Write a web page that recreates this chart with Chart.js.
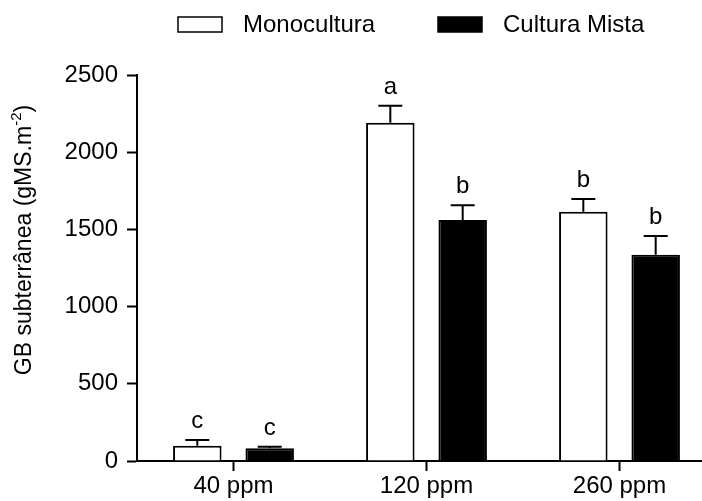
<!DOCTYPE html>
<html>
<head>
<meta charset="utf-8">
<script src="https://cdn.jsdelivr.net/npm/chart.js@4/dist/chart.umd.min.js"></script>
<style>
  html, body { margin: 0; padding: 0; background: #fff; overflow: hidden; }
  #chart { display: block; }
</style>
</head>
<body>
<canvas id="chart" width="740" height="501"></canvas>
<script>
const categories = ["40 ppm", "120 ppm", "260 ppm"];
const monoValues = [99, 2190, 1615];
const monoErrors = [37, 111, 82];
const monoLetters = ["c", "a", "b"];
const mistaValues = [82, 1561, 1336];
const mistaErrors = [11, 95, 121];
const mistaLetters = ["c", "b", "b"];
const yTicks = [0, 500, 1000, 1500, 2000, 2500];

const FONT = "'Liberation Sans', Arial, Helvetica, sans-serif";

// error bars (upper half only) plus the significance letters above them
const errorBars = {
  id: "errorBars",
  afterDatasetsDraw(chart) {
    const ctx = chart.ctx;
    const y = chart.scales.y;
    ctx.save();
    ctx.strokeStyle = "#000";
    ctx.fillStyle = "#000";
    ctx.lineWidth = 2;
    ctx.font = "24px " + FONT;
    ctx.textAlign = "center";
    ctx.textBaseline = "alphabetic";
    chart.data.datasets.forEach((ds, i) => {
      const meta = chart.getDatasetMeta(i);
      meta.data.forEach((bar, j) => {
        const base = y.getPixelForValue(ds.data[j]);
        const top = y.getPixelForValue(ds.data[j] + ds.errors[j]);
        ctx.beginPath();
        ctx.moveTo(bar.x, base);
        ctx.lineTo(bar.x, top);
        ctx.moveTo(bar.x - 12, top);
        ctx.lineTo(bar.x + 12, top);
        ctx.stroke();
        ctx.fillText(ds.letters[j], bar.x, top - 12);
      });
    });
    ctx.restore();
  }
};

// legend on top and the rotated y title with its superscript
const decorations = {
  id: "decorations",
  afterDraw(chart) {
    const ctx = chart.ctx;
    ctx.save();
    ctx.font = "24px " + FONT;
    ctx.textBaseline = "middle";
    ctx.textAlign = "left";
    chart.data.datasets.forEach((ds, i) => {
      const bx = 178 + i * 260;
      ctx.fillStyle = ds.backgroundColor;
      ctx.fillRect(bx, 17, 44, 15);
      ctx.strokeStyle = "#000";
      ctx.lineWidth = 1.5;
      ctx.strokeRect(bx, 17, 44, 15);
      ctx.fillStyle = "#000";
      ctx.fillText(ds.label, bx + 65, 25);
    });

    const main = "GB subterrânea (gMS.m";
    const sup = "-2";
    const end = ")";
    ctx.font = "23px " + FONT;
    const w1 = ctx.measureText(main).width;
    const w3 = ctx.measureText(end).width;
    ctx.font = "15px " + FONT;
    const w2 = ctx.measureText(sup).width;
    const total = w1 + w2 + w3;
    ctx.translate(25, 240);
    ctx.rotate(-Math.PI / 2);
    let x = -total / 2;
    ctx.font = "23px " + FONT;
    ctx.fillText(main, x, 0);
    x += w1;
    ctx.font = "15px " + FONT;
    ctx.fillText(sup, x, -8);
    x += w2;
    ctx.font = "23px " + FONT;
    ctx.fillText(end, x, 0);
    ctx.restore();
  }
};

new Chart(document.getElementById("chart"), {
  type: "bar",
  data: {
    labels: categories,
    datasets: [
      {
        label: "Monocultura",
        data: monoValues,
        errors: monoErrors,
        letters: monoLetters,
        backgroundColor: "#fff",
        borderColor: "#000",
        borderWidth: 2,
        borderSkipped: "bottom"
      },
      {
        label: "Cultura Mista",
        data: mistaValues,
        errors: mistaErrors,
        letters: mistaLetters,
        backgroundColor: "#000",
        borderColor: "#000",
        borderWidth: 2,
        borderSkipped: "bottom"
      }
    ]
  },
  options: {
    responsive: false,
    animation: false,
    categoryPercentage: 0.75,
    barPercentage: 0.67,
    layout: { padding: { top: 75, right: 24, bottom: 0, left: 0 } },
    plugins: {
      legend: { display: false },
      tooltip: { enabled: false }
    },
    scales: {
      x: {
        afterFit: (scale) => { scale.height = 40; },
        grid: {
          offset: false,
          drawOnChartArea: false,
          drawTicks: true,
          tickLength: 10,
          tickWidth: 2,
          tickColor: "#000"
        },
        border: { color: "#000", width: 2 },
        ticks: {
          color: "#000",
          padding: 1,
          font: { family: FONT, size: 24 }
        }
      },
      y: {
        min: 0,
        max: 2500,
        afterFit: (scale) => { scale.width = 137; },
        afterBuildTicks: (scale) => { scale.ticks = yTicks.map(v => ({ value: v })); },
        grid: {
          drawOnChartArea: false,
          drawTicks: true,
          tickLength: 10,
          tickWidth: 2,
          tickColor: "#000"
        },
        border: { color: "#000", width: 2 },
        ticks: {
          color: "#000",
          padding: 9,
          font: { family: FONT, size: 24 },
          callback: (v) => String(v)
        }
      }
    }
  },
  plugins: [errorBars, decorations]
});
</script>
</body>
</html>
